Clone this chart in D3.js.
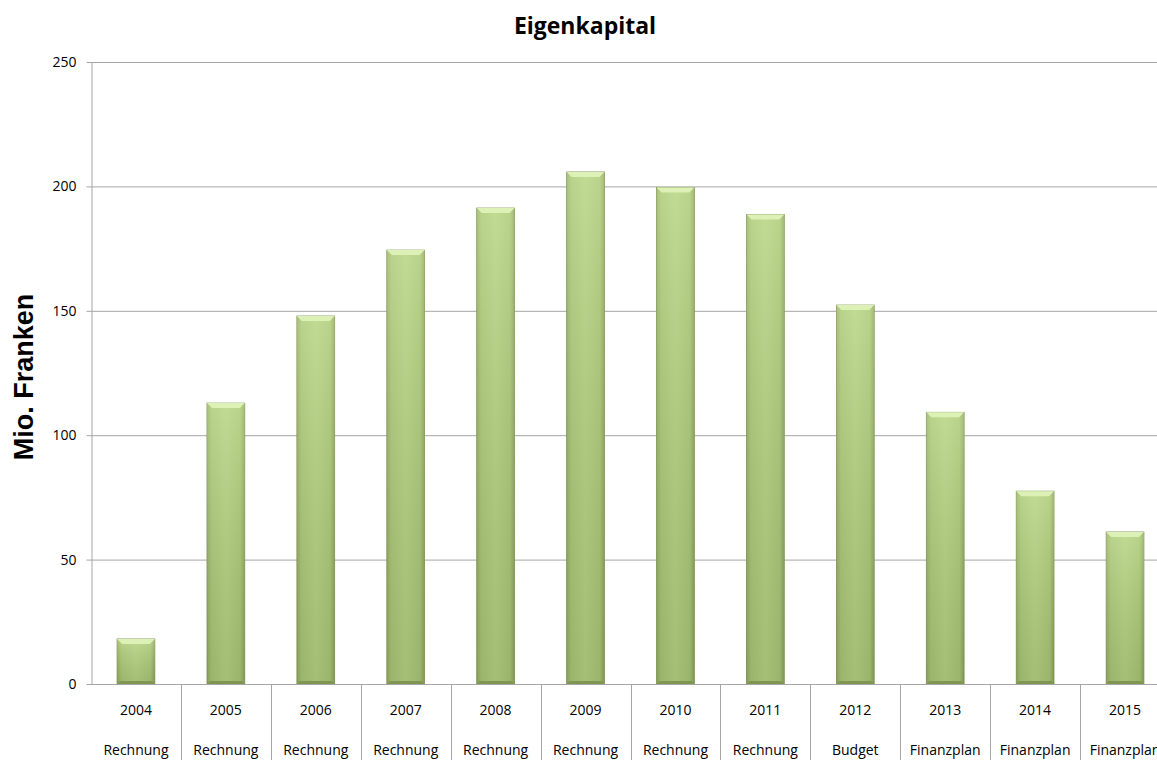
<!DOCTYPE html>
<html>
<head>
<meta charset="utf-8">
<script src="https://cdn.jsdelivr.net/npm/d3@7"></script>
<style>
  html, body { margin: 0; padding: 0; background: #fff; overflow: hidden; }
  svg { display: block; }
  text { font-family: "Open Sans", "Noto Sans", sans-serif; fill: #000; }
</style>
</head>
<body>
<svg id="chart" width="1157" height="760"></svg>
<script>
// Equity by year (million CHF)
const years = ["2004", "2005", "2006", "2007", "2008", "2009", "2010", "2011", "2012", "2013", "2014", "2015"];
const kinds = ["Rechnung", "Rechnung", "Rechnung", "Rechnung", "Rechnung", "Rechnung", "Rechnung", "Rechnung", "Budget", "Finanzplan", "Finanzplan", "Finanzplan"];
const equity = [18.1, 112.9, 147.9, 174.4, 191.3, 205.8, 199.6, 188.7, 152.3, 109.2, 77.5, 61.1];
const yTicks = [0, 50, 100, 150, 200, 250];

const svg = d3.select("#chart");
const plotLeft = 91, plotTop = 62, plotBottom = 684, plotRight = 1170;

const x = d3.scaleBand().domain(years).range([plotLeft, plotRight]).paddingInner(0.58).paddingOuter(0.29);
const y = d3.scaleLinear().domain([0, 250]).range([plotBottom, plotTop]);
const step = x.step();

// gradients for the bevelled bars
const defs = svg.append("defs");
const g1 = defs.append("linearGradient").attr("id", "barH").attr("x1", 0).attr("x2", 1).attr("y1", 0).attr("y2", 0);
g1.append("stop").attr("offset", "0%").attr("stop-color", "#8ea560");
g1.append("stop").attr("offset", "12%").attr("stop-color", "#a9c47a");
g1.append("stop").attr("offset", "50%").attr("stop-color", "#b6d188");
g1.append("stop").attr("offset", "88%").attr("stop-color", "#a9c47a");
g1.append("stop").attr("offset", "100%").attr("stop-color", "#859b58");
const g2 = defs.append("linearGradient").attr("id", "barV").attr("x1", 0).attr("x2", 0).attr("y1", 0).attr("y2", 1);
g2.append("stop").attr("offset", "0%").attr("stop-color", "#d4eaa6").attr("stop-opacity", 0.4);
g2.append("stop").attr("offset", "100%").attr("stop-color", "#6f8a40").attr("stop-opacity", 0.25);

// gridlines
svg.append("g").selectAll("line").data(yTicks.filter(d => d > 0)).join("line")
  .attr("x1", plotLeft).attr("x2", 1157)
  .attr("y1", d => y(d) + 0.5).attr("y2", d => y(d) + 0.5)
  .attr("stroke", "#a6a6a6").attr("stroke-width", 1);

// y axis
const yAxis = svg.append("g").attr("transform", `translate(${plotLeft + 0.5},0)`)
  .call(d3.axisLeft(y).tickValues(yTicks).tickSize(5).tickPadding(10).tickSizeOuter(0));
yAxis.select(".domain").attr("stroke", "#a6a6a6");
yAxis.selectAll(".tick line").attr("stroke", "#a6a6a6");
yAxis.selectAll(".tick text").style("font-size", "14px").attr("fill", "#000");
yAxis.selectAll(".tick").attr("transform", d => `translate(0,${y(d) + 0.5})`);

// bars
const bars = svg.append("g").selectAll("g").data(equity).join("g");
const bw = x.bandwidth();
bars.append("rect")
  .attr("x", (d, i) => x(years[i])).attr("y", d => y(d))
  .attr("width", bw).attr("height", d => y(0) - y(d))
  .attr("fill", "url(#barH)").attr("stroke", "#7b8f52").attr("stroke-width", 0.8);
bars.append("rect")
  .attr("x", (d, i) => x(years[i])).attr("y", d => y(d))
  .attr("width", bw).attr("height", d => y(0) - y(d))
  .attr("fill", "url(#barV)");
// top bevel
bars.append("path")
  .attr("d", (d, i) => {
    const x0 = x(years[i]), y0 = y(d), b = 5;
    return `M${x0},${y0} L${x0 + bw},${y0} L${x0 + bw - b},${y0 + b} L${x0 + b},${y0 + b} Z`;
  })
  .attr("fill", "#ddf0b6");
// bottom bevel
bars.append("path")
  .attr("d", (d, i) => {
    const x0 = x(years[i]), y1 = y(0), b = 3;
    return `M${x0},${y1} L${x0 + bw},${y1} L${x0 + bw - b},${y1 - b} L${x0 + b},${y1 - b} Z`;
  })
  .attr("fill", "#7f9652");

// category axis line and separators
svg.append("line").attr("x1", plotLeft).attr("x2", 1157).attr("y1", plotBottom + 0.5).attr("y2", plotBottom + 0.5)
  .attr("stroke", "#a6a6a6");
svg.append("g").selectAll("line").data(years.slice(1)).join("line")
  .attr("x1", d => Math.round(x(d) - step * 0.29) + 0.5).attr("x2", d => Math.round(x(d) - step * 0.29) + 0.5)
  .attr("y1", plotBottom).attr("y2", 760)
  .attr("stroke", "#a6a6a6");

// labels
svg.append("g").selectAll("text").data(years).join("text")
  .attr("x", d => x(d) + bw / 2).attr("y", 715)
  .attr("text-anchor", "middle").style("font-size", "14px").text(d => d);
svg.append("g").selectAll("text").data(kinds).join("text")
  .attr("x", (d, i) => x(years[i]) + bw / 2).attr("y", 755)
  .attr("text-anchor", "middle").style("font-size", "14px").text(d => d);

// title
svg.append("text").attr("x", 585).attr("y", 34).attr("text-anchor", "middle")
  .style("font-size", "23px").style("font-weight", "bold").text("Eigenkapital");

// y title
svg.append("text").attr("transform", "translate(33,377) rotate(-90)").attr("text-anchor", "middle")
  .style("font-family", "'Liberation Sans', Arial, sans-serif")
  .style("font-size", "27px").style("font-weight", "bold").text("Mio. Franken");
</script>
</body>
</html>
